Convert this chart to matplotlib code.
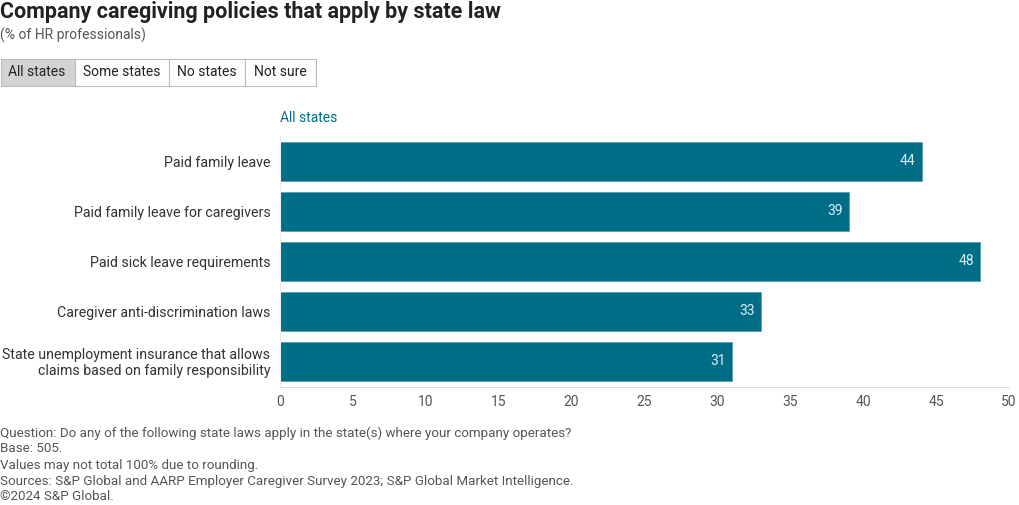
import matplotlib.pyplot as plt
from matplotlib.patches import Rectangle

plt.rcParams['font.family'] = ['Roboto', 'DejaVu Sans']

# Data
categories = [
    'Paid family leave',
    'Paid family leave for caregivers',
    'Paid sick leave requirements',
    'Caregiver anti-discrimination laws',
    'State unemployment insurance that allows\nclaims based on family responsibility',
]
values = [44, 39, 48, 33, 31]
ticks = [0, 5, 10, 15, 20, 25, 30, 35, 40, 45, 50]
buttons = ['All states', 'Some states', 'No states', 'Not sure']
footer = [
    'Question: Do any of the following state laws apply in the state(s) where your company operates?',
    'Base: 505.',
    'Values may not total 100% due to rounding.',
    'Sources: S&P Global and AARP Employer Caregiver Survey 2023; S&P Global Market Intelligence.',
    '\u00a92024 S&P Global.',
]

W, H = 1020, 505
teal = '#006d87'
fig = plt.figure(figsize=(W / 100, H / 100), dpi=100)

def fx(px):
    return px / W

def fy(py):
    return 1 - py / H

ax = fig.add_axes([fx(280), fy(387), fx(1009) - fx(280), fy(136) - fy(387)])
ypos = list(range(len(categories)))
bars = ax.barh(ypos, values, height=0.78, color=teal, edgecolor='#5a9fb3', linewidth=0.6)
for b, v in zip(bars, values):
    ax.text(b.get_width() - 0.4, b.get_y() + b.get_height() / 2, str(v),
            ha='right', va='center', color='#d8eef5', fontsize=10)

ax.set_xlim(0, 50)
ax.set_ylim(4.52, -0.5)
ax.set_yticks(ypos)
ax.set_yticklabels(categories, fontsize=10.2, color='#333333', linespacing=1.15)
ax.set_xticks(ticks)
ax.set_xticklabels([str(t) for t in ticks], fontsize=10, color='#555555')
ax.tick_params(axis='y', length=0, pad=7)
ax.tick_params(axis='x', length=0, pad=6)
for s in ['top', 'right']:
    ax.spines[s].set_visible(False)
ax.spines['left'].set_color('#eeeeee')
ax.spines['bottom'].set_color('#dddddd')
for lbl in ax.get_yticklabels():
    lbl.set_multialignment('right')

# Title and subtitle
fig.text(fx(0), fy(12), 'Company caregiving policies that apply by state law',
         fontsize=15.5, fontweight='bold', color='#222222', va='center')
fig.text(fx(0), fy(35), '(% of HR professionals)', fontsize=10, color='#555555', va='center')

# Button row
edges = [0, 74, 169, 245, 315]
for i, name in enumerate(buttons):
    x0, x1 = edges[i], edges[i + 1]
    fill = '#d3d3d3' if i == 0 else 'white'
    fig.patches.append(Rectangle((fx(x0 + 0.5), fy(86)), fx(x1 - x0), fy(59) - fy(86),
                                 transform=fig.transFigure, facecolor=fill,
                                 edgecolor='#bbbbbb', linewidth=0.8))
    fig.text(fx((x0 + x1) / 2), fy(72.5), name, fontsize=10, color='#222222',
             ha='center', va='center')

fig.text(fx(280), fy(118), 'All states', fontsize=10, color=teal, va='center')

# Footer
for i, line in enumerate(footer):
    fig.text(fx(0), fy(433 + 16 * i), line, fontsize=9.6, color='#555555', va='center')

fig.savefig('out.png', dpi=100)
